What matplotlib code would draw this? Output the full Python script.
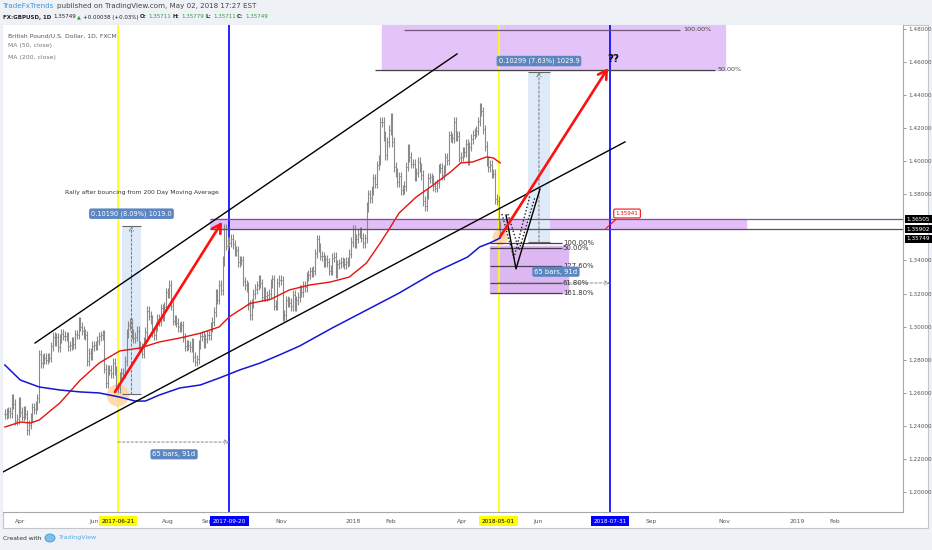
import numpy as np
import pandas as pd
import matplotlib
matplotlib.use('Agg')
import matplotlib.pyplot as plt
from matplotlib import font_manager
from matplotlib.patches import Rectangle, Ellipse

# GBPUSD daily closes (FXCM), one list per month
mar17 = [1.2472, 1.2477, 1.2488, 1.2476, 1.2565, 1.2532, 1.2432, 1.2441, 1.2549]
apr17 = [1.2484, 1.2456, 1.2495, 1.2469, 1.2375, 1.2407, 1.2452, 1.2513, 1.2500, 1.2525,
         1.2566, 1.2833, 1.2778, 1.2805, 1.2811, 1.2799, 1.2815, 1.2813, 1.2882, 1.2940]
may17 = [1.2912, 1.2936, 1.2875, 1.2926, 1.2958, 1.2945, 1.2941, 1.2941, 1.2881, 1.2886,
         1.2910, 1.2892, 1.2954, 1.2951, 1.3030, 1.3000, 1.2975, 1.2956, 1.2947, 1.2790,
         1.2842, 1.2824, 1.2883]
jun17 = [1.2888, 1.2885, 1.2915, 1.2942, 1.2948, 1.2951, 1.2746, 1.2658, 1.2741, 1.2738,
         1.2718, 1.2782, 1.2735, 1.2632, 1.2628, 1.2700, 1.2720, 1.2716, 1.2792, 1.2957,
         1.3008, 1.3023]
jul17 = [1.2955, 1.2932, 1.2939, 1.2976, 1.2884, 1.2874, 1.2837, 1.2911, 1.2968, 1.3094,
         1.3067, 1.3041, 1.2968, 1.2949, 1.2999, 1.3048, 1.3034, 1.3110, 1.3064, 1.3121,
         1.3207]
aug17 = [1.3204, 1.3251, 1.3127, 1.3036, 1.3045, 1.3024, 1.2998, 1.2995, 1.3007, 1.2933,
         1.2882, 1.2894, 1.2887, 1.2875, 1.2903, 1.2817, 1.2788, 1.2803, 1.2890, 1.2941,
         1.2943, 1.2900, 1.2928]
sep17 = [1.2950, 1.2948, 1.2997, 1.3029, 1.3089, 1.3199, 1.3162, 1.3252, 1.3219, 1.3397,
         1.3591, 1.3489, 1.3513, 1.3507, 1.3532, 1.3497, 1.3458, 1.3462, 1.3391, 1.3398,
         1.3401]
oct17 = [1.3274, 1.3251, 1.3240, 1.3131, 1.3068, 1.3140, 1.3197, 1.3227, 1.3250, 1.3285,
         1.3262, 1.3182, 1.3210, 1.3185, 1.3190, 1.3200, 1.3259, 1.3285, 1.3127, 1.3130,
         1.3266, 1.3284]
nov17 = [1.3280, 1.3063, 1.3071, 1.3158, 1.3149, 1.3144, 1.3124, 1.3192, 1.3120, 1.3160,
         1.3179, 1.3224, 1.3207, 1.3246, 1.3237, 1.3301, 1.3313, 1.3334, 1.3327, 1.3339,
         1.3443, 1.3529]
dec17 = [1.3478, 1.3428, 1.3425, 1.3387, 1.3406, 1.3388, 1.3338, 1.3342, 1.3417, 1.3422,
         1.3321, 1.3376, 1.3383, 1.3392, 1.3388, 1.3376, 1.3391, 1.3392, 1.3442, 1.3512]
jan18 = [1.3588, 1.3501, 1.3531, 1.3563, 1.3572, 1.3537, 1.3506, 1.3535, 1.3724, 1.3800,
         1.3776, 1.3824, 1.3897, 1.3864, 1.3976, 1.4007, 1.4239, 1.4238, 1.4153, 1.4035,
         1.4116, 1.4189]
feb18 = [1.4263, 1.4116, 1.3965, 1.3933, 1.3875, 1.3908, 1.3826, 1.3827, 1.3850, 1.3967,
         1.4078, 1.4025, 1.3985, 1.3986, 1.3906, 1.3930, 1.3996, 1.3964, 1.3917, 1.3759]
mar18 = [1.3730, 1.3802, 1.3898, 1.3902, 1.3891, 1.3850, 1.3840, 1.3866, 1.3956, 1.3961,
         1.3915, 1.3950, 1.4024, 1.4006, 1.4156, 1.4145, 1.4141, 1.4237, 1.4150, 1.4155,
         1.4021, 1.4027]
apr18 = [1.4058, 1.4054, 1.4106, 1.4005, 1.4089, 1.4134, 1.4160, 1.4175, 1.4184, 1.4241,
         1.4327, 1.4303, 1.4193, 1.4092, 1.4002, 1.3964, 1.3977, 1.3928, 1.3925, 1.3771,
         1.3761]
may18 = [1.3612, 1.3575]

# moving averages, read at a few bars
ma50_bar = [0, 9, 15, 20, 32, 44, 55, 67, 79, 90, 102, 114, 125, 131, 143, 155, 166, 178,
            190, 201, 211, 219, 225, 230, 240, 250, 260, 266, 273, 281, 285, 289]
ma50_val = [1.2393, 1.2423, 1.2417, 1.2435, 1.2538, 1.2677, 1.2780, 1.2853, 1.2871, 1.2907,
            1.2931, 1.2960, 1.2998, 1.3060, 1.3140, 1.3165, 1.3222, 1.3252, 1.3270, 1.3300,
            1.3385, 1.3506, 1.3603, 1.3687, 1.3784, 1.3857, 1.3935, 1.3990, 1.3996, 1.4026,
            1.4020, 1.3990]
ma200_bar = [0, 9, 20, 32, 44, 55, 67, 76, 82, 90, 102, 114, 125, 137, 149, 160, 172, 191,
             211, 230, 250, 270, 277, 283, 289]
ma200_val = [1.2768, 1.2677, 1.2635, 1.2617, 1.2605, 1.2599, 1.2574, 1.2550, 1.2550, 1.2586,
             1.2629, 1.2647, 1.2689, 1.2738, 1.2780, 1.2828, 1.2883, 1.2992, 1.3100, 1.3203,
             1.3324, 1.3421, 1.3482, 1.3506, 1.3536]

# 1.36000 is hidden behind the price tags on the original
price_ticks = [1.20, 1.22, 1.24, 1.26, 1.28, 1.30, 1.32, 1.34, 1.38, 1.40, 1.42,
               1.44, 1.46, 1.48]
month_dates = ['2017-04-03', '2017-06-01', '2017-08-01', '2017-09-01', '2017-11-01',
               '2018-01-02', '2018-02-01', '2018-04-02', '2018-06-01', '2018-09-03',
               '2018-11-01', '2019-01-02', '2019-02-01']
month_labels = ['Apr', 'Jun', 'Aug', 'Sep', 'Nov', '2018', 'Feb', 'Apr', 'Jun', 'Sep',
                'Nov', '2019', 'Feb']
marked_dates = ['2017-06-21', '2017-09-20', '2018-05-01', '2018-07-31']
marked_colors = ['#ffff00', '#0000ff', '#ffff00', '#0000ff']

zone_top = 1.36505
zone_bottom = 1.35902
last_price = 1.35749

closes = np.array(mar17 + apr17 + may17 + jun17 + jul17 + aug17 + sep17 + oct17 + nov17
                  + dec17 + jan18 + feb18 + mar18 + apr18 + may18)

# trading days (weekdays without Christmas / New Year), chart x = bar number
holidays = ['2017-12-25', '2018-01-01', '2018-12-25', '2019-01-01']
dates = pd.date_range('2017-03-21', '2019-03-29',
                      freq=pd.offsets.CustomBusinessDay(holidays=holidays))


def bar_of(d):
    return dates.get_loc(pd.Timestamp(d))


names = {f.name for f in font_manager.fontManager.ttflist}
narrow = 'Liberation Sans Narrow' if 'Liberation Sans Narrow' in names else 'DejaVu Sans'
fam = [narrow, 'DejaVu Sans']
sc = 1.0 if narrow != 'DejaVu Sans' else 0.8
plt.rcParams['font.family'] = fam

W, H = 932, 550
fig = plt.figure(figsize=(W / 100, H / 100), dpi=100, facecolor='#eef1f5')
fig.add_artist(Rectangle((3 / W, 1 - 528 / H), 925 / W, 503 / H, transform=fig.transFigure,
                         fc='white', ec='#c3c7cc', lw=0.8, zorder=0))
ax = fig.add_axes([3 / W, 1 - 512 / H, 900 / W, 487 / H])
ax.set_facecolor('white')
ax.set_xlim(-1.1, 524)
ax.set_ylim(1.1879, 1.4824)
for s in ['left', 'top']:
    ax.spines[s].set_visible(False)
for s in ['right', 'bottom']:
    ax.spines[s].set_color('#a5a9ae')
    ax.spines[s].set_linewidth(0.8)

# OHLC bars
bars = np.arange(len(closes))
opens = np.r_[closes[0], closes[:-1]]
wick = 0.0028
highs = np.maximum(opens, closes) + wick
lows = np.minimum(opens, closes) - wick
ax.vlines(bars, lows, highs, color='#8a8a8a', lw=0.8, zorder=3)
ax.hlines(opens, bars - 0.55, bars, color='#8a8a8a', lw=0.7, zorder=3)
ax.hlines(closes, bars, bars + 0.55, color='#8a8a8a', lw=0.7, zorder=3)

ax.plot(ma50_bar, ma50_val, color='#e8120c', lw=1.0, zorder=4)
ax.plot(ma200_bar, ma200_val, color='#1515d6', lw=1.1, zorder=4)

# vertical date markers
for d, c in zip(marked_dates, marked_colors):
    ax.axvline(bar_of(d), color=c, lw=1.2, zorder=2)
    ax.text(bar_of(d), -0.019, d, transform=ax.get_xaxis_transform(), ha='center', va='center',
            fontsize=5.2 * sc, color='black' if c == '#ffff00' else 'white', clip_on=False,
            bbox=dict(boxstyle='square,pad=0.45', fc=c, ec='none'))

# support / resistance zone
ax.fill_between([119.7, 432.4], zone_bottom, zone_top, color='#e2bff6', zorder=1.5)
ax.hlines(zone_top, 119.7, 524, color='#7b4f9a', lw=0.9, zorder=5)
ax.hlines(zone_bottom, 119.7, 524, color='#555555', lw=0.9, zorder=5)

# upper target fib
ax.fill_between([220, 420.2], 1.4552, 1.4824, color='#e4c4f8', zorder=1.5)
ax.hlines(1.4794, 232.8, 393.9, color='#6d5a7a', lw=0.9, zorder=5)
ax.hlines(1.4552, 215.9, 414.3, color='#444444', lw=0.9, zorder=5)
ax.text(395.6, 1.4794, '100.00%', fontsize=5.8 * sc, color='#444', va='center', zorder=6)
ax.text(416.0, 1.4552, '50.00%', fontsize=5.8 * sc, color='#444', va='center', zorder=6)

# lower fib projection
ax.fill_between([283, 328.5], 1.3203, 1.3490, color='#dcb7f2', zorder=1.6)
fib_levels = [1.3506, 1.3476, 1.3367, 1.3264, 1.3203]
fib_texts = ['100.00%', '50.00%', '127.60%', '61.80%', '161.80%']
for lv, t in zip(fib_levels, fib_texts):
    ax.hlines(lv, 283, 325, color='#4a3f55', lw=0.9, zorder=5)
    ax.text(325.6, lv, t, fontsize=6.2 * sc, color='#333', va='center', zorder=6)

# channel lines
ax.plot([17.6, 263.8], [1.2901, 1.4649], color='black', lw=1.0, zorder=6)
ax.plot([-1.1, 361.8], [1.2121, 1.4117], color='black', lw=1.0, zorder=6)

# measure boxes
for x0, x1, p0, p1, lab, ly in [(68.3, 79.4, 1.2590, 1.3609, '0.10190 (8.09%) 1019.0', 1.3683),
                                 (305.2, 318.0, 1.3512, 1.4542, '0.10299 (7.63%) 1029.9', 1.4606)]:
    ax.add_patch(Rectangle((x0, p0), x1 - x0, p1 - p0, fc='#dfeaf9', ec='none', zorder=1.8))
    ax.hlines([p0, p1], x0, x1, color='#666666', lw=0.8, zorder=5)
    xm = (x0 + x1) / 2
    ax.annotate('', xy=(xm, p1), xytext=(xm, p0),
                arrowprops=dict(arrowstyle='->,head_length=0.3,head_width=0.15', color='#777777',
                                lw=0.7, ls=(0, (2.5, 2)), shrinkA=0, shrinkB=0), zorder=5)
    ax.text(xm, ly, lab, ha='center', va='center', fontsize=6.0 * sc, color='white', zorder=8,
            bbox=dict(boxstyle='round,pad=0.3,rounding_size=0.3', fc='#5b86c0', ec='none'))

# date range measures
for x0, x1, p, lx, lp in [(66, 131, 1.2302, 98.7, 1.2228), (288, 353, 1.3264, 321.5, 1.3332)]:
    ax.annotate('', xy=(x1, p), xytext=(x0, p),
                arrowprops=dict(arrowstyle='->,head_length=0.3,head_width=0.15', color='#888888',
                                lw=0.7, ls=(0, (2.5, 2)), shrinkA=0, shrinkB=0), zorder=5)
    ax.text(lx, lp, '65 bars, 91d', ha='center', va='center', fontsize=6.2 * sc, color='white',
            zorder=8, bbox=dict(boxstyle='round,pad=0.3,rounding_size=0.3', fc='#5b86c0', ec='none'))

# highlighter blobs
ax.add_patch(Ellipse((66, 1.2585), 13, 0.0135, fc='#ffd3a3', ec='none', alpha=0.85, zorder=2.5))
ax.add_patch(Ellipse((289, 1.3540), 9, 0.0095, fc='#ffd3a3', ec='none', alpha=0.85, zorder=2.5))

# projected path
ax.plot([292.4, 298.2, 312.2], [1.3675, 1.3349, 1.3832], color='black', lw=1.0, zorder=6)
ax.plot([290.0, 297.0, 306.4], [1.3681, 1.3415, 1.3796], color='#222', lw=1.0,
        ls=(0, (1, 1.5)), zorder=6)
ax.plot([293.5, 300.0, 309.3], [1.3681, 1.3463, 1.3784], color='#222', lw=1.0,
        ls=(0, (1, 1.5)), zorder=6)

# red arrows
for x0, p0, x1, p1 in [(64.2, 1.2605, 126.7, 1.3633), (288.9, 1.3542, 351.9, 1.4564)]:
    ax.annotate('', xy=(x1, p1), xytext=(x0, p0),
                arrowprops=dict(arrowstyle='->,head_length=0.6,head_width=0.35', color='#ff1010',
                                lw=1.9, shrinkA=0, shrinkB=0), zorder=7)

ax.text(351.5, 1.4590, '??', fontsize=7.5, fontweight='bold', family='DejaVu Sans',
        color='#111', va='bottom', zorder=8)

# price callout
ax.plot([350.7, 356.5], [1.35941, 1.3648], color='#ee1111', lw=0.8, zorder=8)
ax.text(363, 1.3684, '1.35941', ha='center', va='center', fontsize=5.0 * sc, color='#dd1111',
        zorder=9, bbox=dict(boxstyle='round,pad=0.35,rounding_size=0.25', fc='white',
                            ec='#ee1111', lw=0.8))

ax.text(80, 1.3814, 'Rally after bouncing from 200 Day Moving Average', ha='center', va='center',
        fontsize=5.4 * sc, color='#333', zorder=8)

# axes ticks
ax.yaxis.tick_right()
ax.set_yticks(price_ticks)
ax.set_yticklabels(['%.5f' % p for p in price_ticks])
ax.tick_params(axis='y', length=2, width=0.6, color='#888', labelsize=5.2 * sc,
               labelcolor='#555', pad=2)
ax.set_xticks([bar_of(d) for d in month_dates])
ax.set_xticklabels(month_labels)
ax.tick_params(axis='x', length=0, labelsize=5.4 * sc, labelcolor='#555', pad=5)

# right-axis price tags (stacked so they do not overlap)
for p, yv in [(zone_top, zone_top), (zone_bottom, zone_bottom), (last_price, 1.3530)]:
    ax.text(1.004, yv, '%.5f' % p, transform=ax.get_yaxis_transform(), ha='left', va='center',
            fontsize=5.2 * sc, color='white', clip_on=False, zorder=9,
            bbox=dict(boxstyle='square,pad=0.3', fc='black', ec='none'))

renderer = fig.canvas.get_renderer()


def seq_text(px, py, parts, gap=2.5):
    # draw pieces one after the other on a header line
    x = px
    for s, kw in parts:
        t = fig.text(x / W, 1 - py / H, s, va='center', ha='left', **kw)
        x += t.get_window_extent(renderer).width + gap


green = '#2f9e3f'
f1 = 6.4 * sc
f2 = 5.0 * sc
seq_text(3, 6, [('TradeFxTrends', dict(fontsize=f1, color='#3d98d6')),
                ('published on TradingView.com, May 02, 2018 17:27 EST',
                 dict(fontsize=f1, color='#444'))])
seq_text(3, 17, [('FX:GBPUSD, 1D', dict(fontsize=f2, color='#222', fontweight='bold')),
                 ('1.35749', dict(fontsize=f2, color='#222')),
                 ('\u25b2', dict(fontsize=f2 * 0.9, color=green, family='DejaVu Sans')),
                 ('+0.00038 (+0.03%)', dict(fontsize=f2, color='#222')),
                 ('O:', dict(fontsize=f2, color='#222', fontweight='bold')),
                 ('1.35711', dict(fontsize=f2, color=green)),
                 ('H:', dict(fontsize=f2, color='#222', fontweight='bold')),
                 ('1.35779', dict(fontsize=f2, color=green)),
                 ('L:', dict(fontsize=f2, color='#222', fontweight='bold')),
                 ('1.35711', dict(fontsize=f2, color=green)),
                 ('C:', dict(fontsize=f2, color='#222', fontweight='bold')),
                 ('1.35749', dict(fontsize=f2, color=green))], gap=1.6)

fig.text(8 / W, 1 - 36 / H, 'British Pound/U.S. Dollar, 1D, FXCM', fontsize=5.5 * sc,
         color='#555', va='center')
fig.text(8 / W, 1 - 46 / H, 'MA (50, close)', fontsize=5.5 * sc, color='#777', va='center')
fig.text(8 / W, 1 - 57 / H, 'MA (200, close)', fontsize=5.5 * sc, color='#777', va='center')

fig.text(3 / W, 1 - 538 / H, 'Created with', fontsize=5.4 * sc, color='#333', va='center')
fig.add_artist(Ellipse((50 / W, 1 - 538 / H), 10 / W, 8 / H, transform=fig.transFigure,
                       fc='#7fc0ea', ec='#3d98d6', lw=0.6))
fig.text(59 / W, 1 - 538 / H, 'TradingView', fontsize=5.6 * sc, color='#5aa9e0', va='center')

fig.savefig('out.png', dpi=100, facecolor=fig.get_facecolor())
